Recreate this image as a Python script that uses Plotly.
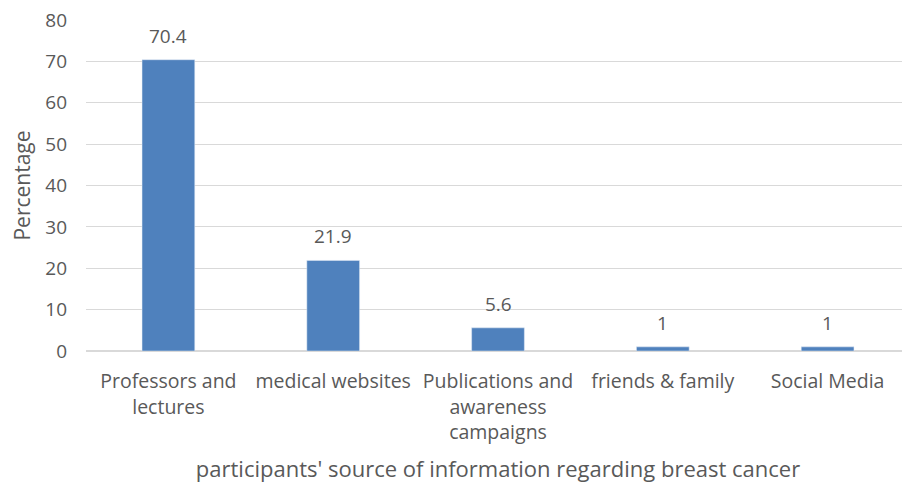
import plotly.graph_objects as go

categories = ['Professors and<br>lectures', 'medical websites', 'Publications and<br>awareness<br>campaigns',
              'friends & family', 'Social Media']
values = [70.4, 21.9, 5.6, 1, 1]
labels = ['70.4', '21.9', '5.6', '1', '1']

font_family = 'Open Sans'
text_color = '#595959'

fig = go.Figure(data=[
    go.Bar(
        x=categories,
        y=values,
        marker=dict(color='#4F81BD'),
    )
])

# data labels above the bars
for cat, val, lab in zip(categories, values, labels):
    fig.add_annotation(x=cat, y=val, text=lab, showarrow=False, yshift=24,
                       yanchor='middle', font=dict(family=font_family, size=19, color=text_color))

fig.update_layout(
    width=910,
    height=486,
    plot_bgcolor='white',
    paper_bgcolor='white',
    margin=dict(l=78, r=8, t=12, b=143),
    bargap=0.68,
    showlegend=False,
    font=dict(family=font_family, size=19, color=text_color),
    xaxis=dict(
        title=dict(text="participants' source of information regarding breast cancer",
                   font=dict(size=22, color=text_color), standoff=17),
        showgrid=False,
        showline=True,
        linecolor='#D9D9D9',
        linewidth=1,
        tickfont=dict(size=19.5, color=text_color),
        ticklabelstandoff=13,
        automargin=False,
    ),
    yaxis=dict(
        title=dict(text='Percentage', font=dict(size=21, color=text_color), standoff=12),
        range=[0, 80],
        dtick=10,
        showgrid=True,
        gridcolor='#D9D9D9',
        gridwidth=1,
        zeroline=True,
        zerolinecolor='#D9D9D9',
        tickfont=dict(size=19, color=text_color),
        ticklabelstandoff=18,
        ticklabeloverflow='allow',
        automargin=False,
    ),
)

fig.write_html("out.html")
